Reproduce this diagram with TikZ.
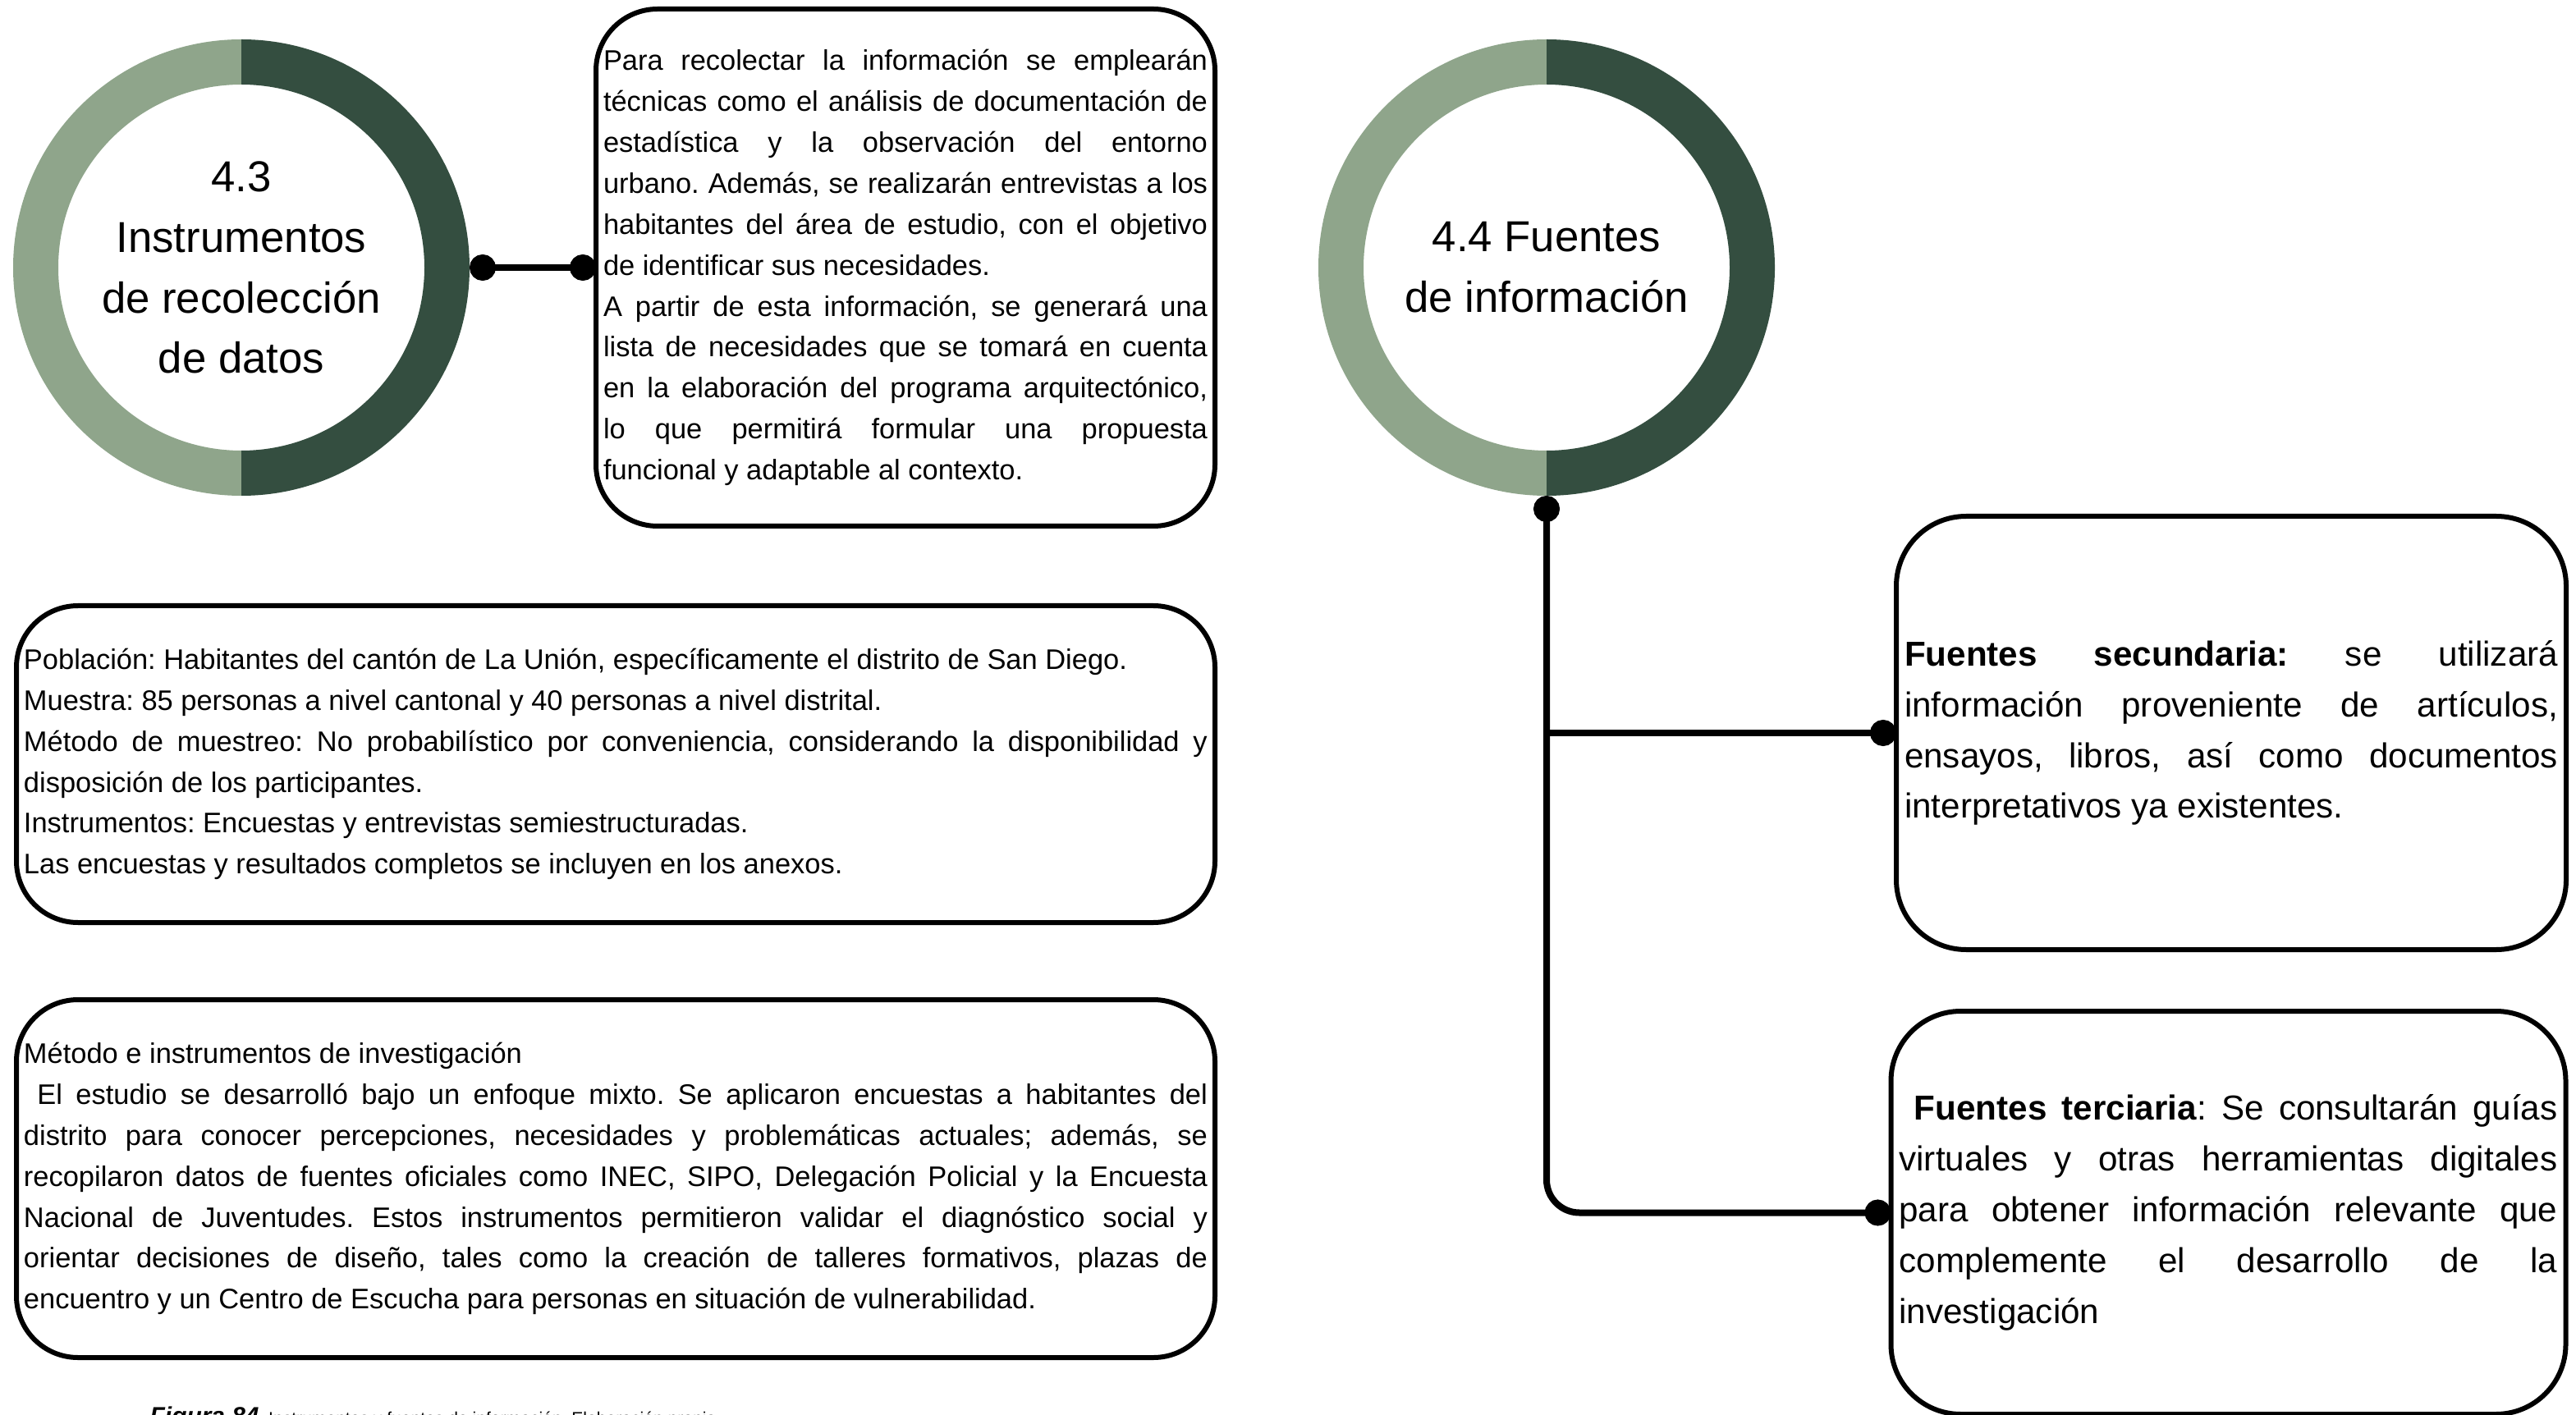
\documentclass[tikz,border=0pt]{standalone}
\usepackage{fontspec}
\setmainfont{Liberation Sans}
\usetikzlibrary{arrows.meta, positioning}
\definecolor{ringdark}{RGB}{52,78,64}
\definecolor{ringlight}{RGB}{143,165,139}
\setlength{\parindent}{0pt}
\hyphenpenalty=10000
\tolerance=10000
\frenchspacing

\begin{document}
\begin{tikzpicture}[
  txtbox/.style={draw, line width=0.06cm, rounded corners=0.75cm, align=justify,
    inner xsep=0.09cm, inner ysep=0pt, outer sep=0pt,
    font=\fontsize{9.8pt}{14.2pt}\selectfont},
  bigbox/.style={txtbox, rounded corners=0.85cm, inner xsep=0.1cm,
    font=\fontsize{12pt}{17.6pt}\selectfont},
  ringlbl/.style={circle, minimum size=5.56cm, inner sep=0pt, outer sep=0pt,
    align=center, font=\fontsize{15pt}{21pt}\selectfont},
  link/.style={line width=0.08cm, {Circle[length=0.32cm]}-{Circle[length=0.32cm]}}
]

  \def\R{2.78}
  \def\r{2.23}

  \useasboundingbox (0,0) rectangle (31.38,-17.24);

  %% -- 4.3 ring and its boxes (left)
  \node[ringlbl] (ring43) at (2.94,-3.26) {4.3\\Instrumentos\\de recolección\\de datos};
  \fill[ringlight] (ring43.north) arc[start angle=90, end angle=270, radius=\R]
        -- ++(0,\R-\r) arc[start angle=270, end angle=90, radius=\r] -- cycle;
  \fill[ringdark] (ring43.north) arc[start angle=90, end angle=-90, radius=\R]
        -- ++(0,\R-\r) arc[start angle=-90, end angle=90, radius=\r] -- cycle;

  \node[txtbox, text width=7.36cm, minimum height=6.30cm, right=1.54cm of ring43] (box43)
    {Para recolectar la información se emplearán \linebreak
     técnicas como el análisis de documentación de \linebreak
     estadística y la observación del entorno \linebreak
     urbano. Además, se realizarán entrevistas a los \linebreak
     habitantes del área de estudio, con el objetivo \linebreak
     de identificar sus necesidades.\par
     A partir de esta información, se generará una \linebreak
     lista de necesidades que se tomará en cuenta \linebreak
     en la elaboración del programa arquitectónico, \linebreak
     lo que permitirá formular una propuesta \linebreak
     funcional y adaptable al contexto.};

  \node[txtbox, text width=14.42cm, minimum height=3.86cm] (muestra) at (7.50,-9.31)
    {Población: Habitantes del cantón de La Unión, específicamente el distrito de San Diego.\par
     Muestra: 85 personas a nivel cantonal y 40 personas a nivel distrital.\par
     Método de muestreo: No probabilístico por conveniencia, considerando la disponibilidad y \linebreak
     disposición de los participantes.\par
     Instrumentos: Encuestas y entrevistas semiestructuradas.\par
     Las encuestas y resultados completos se incluyen en los anexos.};

  \node[txtbox, text width=14.42cm, minimum height=4.36cm] (metodo) at (7.50,-14.36)
    {Método e instrumentos de investigación\par
     \ El estudio se desarrolló bajo un enfoque mixto. Se aplicaron encuestas a habitantes del \linebreak
     distrito para conocer percepciones, necesidades y problemáticas actuales; además, se \linebreak
     recopilaron datos de fuentes oficiales como INEC, SIPO, Delegación Policial y la Encuesta \linebreak
     Nacional de Juventudes. Estos instrumentos permitieron validar el diagnóstico social y \linebreak
     orientar decisiones de diseño, tales como la creación de talleres formativos, plazas de \linebreak
     encuentro y un Centro de Escucha para personas en situación de vulnerabilidad.};

  %% -- 4.4 ring and its boxes (right)
  \node[ringlbl] (ring44) at (18.84,-3.26) {4.4 Fuentes\\de información};
  \fill[ringlight] (ring44.north) arc[start angle=90, end angle=270, radius=\R]
        -- ++(0,\R-\r) arc[start angle=270, end angle=90, radius=\r] -- cycle;
  \fill[ringdark] (ring44.north) arc[start angle=90, end angle=-90, radius=\R]
        -- ++(0,\R-\r) arc[start angle=-90, end angle=90, radius=\r] -- cycle;

  \node[bigbox, text width=7.96cm, minimum height=5.28cm] (secund) at (27.18,-8.93)
    {\textbf{Fuentes secundaria:} se utilizará \linebreak
     información proveniente de artículos, \linebreak
     ensayos, libros, así como documentos \linebreak
     interpretativos ya existentes.};

  \node[bigbox, text width=8.02cm, minimum height=4.91cm] (terci) at (27.145,-14.775)
    {\ \textbf{Fuentes terciaria}: Se consultarán guías \linebreak
     virtuales y otras herramientas digitales \linebreak
     para obtener información relevante que \linebreak
     complemente el desarrollo de la \linebreak
     investigación};

  %% -- connectors
  \draw[link] (ring43.east) -- (box43.west);
  \draw[link, rounded corners=0.4cm] (ring44.south) |- (terci.west);
  \draw[link, -{Circle[length=0.32cm]}] (ring44.south |- secund.west) -- (secund.west);

  %% -- caption (cut by the page edge)
  \node[anchor=base west, inner sep=0pt, font=\fontsize{6pt}{7pt}\selectfont] (caption) at (1.82,-17.35)
    {{\fontsize{8.5pt}{9pt}\selectfont\bfseries\itshape Figura 84}\ \ Instrumentos y fuentes de información. Elaboración propia.};

\end{tikzpicture}
\end{document}
